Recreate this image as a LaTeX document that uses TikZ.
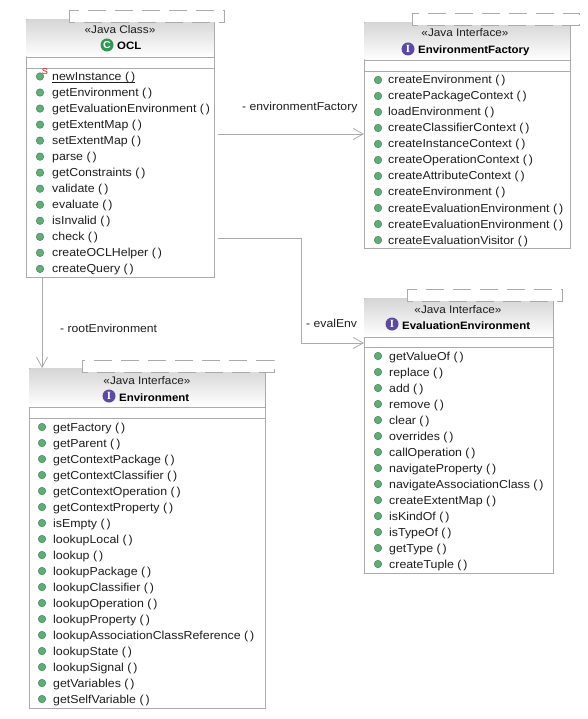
\documentclass[tikz,border=0pt]{standalone}
\usepackage{fontspec}
\setmainfont[FakeStretch=1.07]{Liberation Sans}
\newfontfamily\iconserif{Liberation Serif}
\usetikzlibrary{arrows.meta}
\definecolor{umlline}{HTML}{ABABAB}
\definecolor{umlhead}{HTML}{D6D6D6}
\definecolor{umltext}{HTML}{1E1E1E}
\definecolor{bulletfill}{HTML}{62AC75}
\definecolor{bulletedge}{HTML}{3F8A58}
\definecolor{classicon}{HTML}{2E9A50}
\definecolor{ifaceicon}{HTML}{5B4A9F}
\tikzset{
  classbox/.style={draw=umlline,line width=1.2pt,fill=white,anchor=north west,inner sep=0pt},
  headshade/.style={top color=umlhead,bottom color=white},
  sepline/.style={draw=umlline,line width=0.9pt},
  tabbox/.style={fill=white,draw=umlline,line width=0.8pt,dash pattern=on 18pt off 9pt},
  assoc/.style={draw=umlline,line width=0.8pt,-{Straight Barb[length=10pt,width=11pt]}},
  method/.style={anchor=base west,inner sep=0pt,text=umltext,font=\fontsize{11.55}{13}\selectfont},
  bullet/.style={circle,inner sep=0pt,minimum size=7.5pt,fill=bulletfill,draw=bulletedge,line width=0.5pt},
  stereo/.style={anchor=base,inner sep=0pt,text=umltext,font=\fontsize{11}{13}\selectfont},
  title/.style={anchor=base west,inner sep=0pt,font=\fontsize{10.7}{13}\selectfont\bfseries},
  icon/.style={circle,inner sep=0pt,minimum size=13pt,text=white,font=\fontsize{10}{10}\selectfont\bfseries},
  ifaceletter/.style={icon,fill=ifaceicon,font=\fontsize{11}{11}\selectfont\iconserif\bfseries},
  role/.style={anchor=base west,inner sep=0pt,text=umltext,font=\fontsize{11.4}{13}\selectfont}
}
\begin{document}
\begin{tikzpicture}[x=1pt,y=-1pt]
  \useasboundingbox (0,0) rectangle (588,719);

  % OCL class
  \node[classbox,minimum width=188pt,minimum height=258pt] (ocl) at (26,19) {};
  \fill[headshade] (26.6,19.6) rectangle (213.4,57);
  \draw[sepline] (26,57) -- (214,57);
  \draw[sepline] (26,68) -- (214,68);
  \draw[tabbox] (69,10) rectangle (224,22);
  \node[stereo] (oclStereo) at (120,34) {«Java Class»};
  \node[icon,fill=classicon] (oclIcon) at (107,45) {C};
  \node[title] (oclTitle) at (117,49.5) {OCL};
  \node[bullet] (oclBullet0) at (40,76.5) {};
  \node[inner sep=0pt,text=red,font=\fontsize{8.5}{9}\selectfont] (oclStatic) at (45,71.5) {S};
  \node[method] (oclMethod0) at (52,81) {newInstance (\,)};
  \draw[umltext,line width=0.7pt] ([yshift=-1.8pt]oclMethod0.base west) -- ([yshift=-1.8pt]oclMethod0.base east);
  \foreach \meth [count=\i] in {getEnvironment,getEvaluationEnvironment,getExtentMap,setExtentMap,parse,getConstraints,validate,evaluate,isInvalid,check,createOCLHelper,createQuery}{
    \node[bullet] (oclBullet\i) at (40,{76.5+\i*16.03}) {};
    \node[method] (oclMethod\i) at (52,{80.5+\i*16.03}) {\meth\ (\,)};
  }

  % EnvironmentFactory interface
  \node[classbox,minimum width=206pt,minimum height=226pt] (envFactory) at (364,22) {};
  \fill[headshade] (364.6,22.6) rectangle (569.4,60);
  \draw[sepline] (364,60) -- (570,60);
  \draw[sepline] (364,71) -- (570,71);
  \draw[tabbox] (412,13) rectangle (579,25);
  \node[stereo] (factoryStereo) at (465,36.7) {«Java Interface»};
  \node[ifaceletter] (factoryIcon) at (408,49) {I};
  \node[title] (factoryTitle) at (418,53.5) {EnvironmentFactory};
  \foreach \meth [count=\i from 0] in {createEnvironment,createPackageContext,loadEnvironment,createClassifierContext,createInstanceContext,createOperationContext,createAttributeContext,createEnvironment,createEvaluationEnvironment,createEvaluationEnvironment,createEvaluationVisitor}{
    \node[bullet] (factoryBullet\i) at (378,{80+\i*16}) {};
    \node[method] (factoryMethod\i) at (388,{84+\i*16}) {\meth\ (\,)};
  }

  % Environment interface
  \node[classbox,minimum width=236pt,minimum height=340pt] (environment) at (29,368) {};
  \fill[headshade] (29.6,368.6) rectangle (264.4,407);
  \draw[sepline] (29,407) -- (265,407);
  \draw[sepline] (29,418) -- (265,418);
  \draw[tabbox] (82,360) rectangle (274,372);
  \node[stereo] (environmentStereo) at (147,384.3) {«Java Interface»};
  \node[ifaceletter] (environmentIcon) at (109,396) {I};
  \node[title] (environmentTitle) at (119,401) {Environment};
  \foreach \meth [count=\i from 0] in {getFactory,getParent,getContextPackage,getContextClassifier,getContextOperation,getContextProperty,isEmpty,lookupLocal,lookup,lookupPackage,lookupClassifier,lookupOperation,lookupProperty,lookupAssociationClassReference,lookupState,lookupSignal,getVariables,getSelfVariable}{
    \node[bullet] (environmentBullet\i) at (42,{427+\i*16}) {};
    \node[method] (environmentMethod\i) at (53,{431+\i*16}) {\meth\ (\,)};
  }

  % EvaluationEnvironment interface
  \node[classbox,minimum width=189pt,minimum height=275pt] (evalEnv) at (364,298) {};
  \fill[headshade] (364.6,298.6) rectangle (552.4,337);
  \draw[sepline] (364,337) -- (553,337);
  \draw[sepline] (364,347) -- (553,347);
  \draw[tabbox] (407,289) rectangle (562,301);
  \node[stereo] (evalStereo) at (458,313.3) {«Java Interface»};
  \node[ifaceletter] (evalIcon) at (392,324) {I};
  \node[title] (evalTitle) at (402,329) {EvaluationEnvironment};
  \foreach \meth [count=\i from 0] in {getValueOf,replace,add,remove,clear,overrides,callOperation,navigateProperty,navigateAssociationClass,createExtentMap,isKindOf,isTypeOf,getType,createTuple}{
    \node[bullet] (evalBullet\i) at (378,{356+\i*16}) {};
    \node[method] (evalMethod\i) at (389,{360+\i*16}) {\meth\ (\,)};
  }

  % associations
  \coordinate (factoryOut) at (218,134);
  \coordinate (rootOut) at (42,277);
  \coordinate (evalOut) at (218,238);
  \coordinate (evalBend) at (301.5,238);
  \coordinate (evalIn) at (364,343);
  \draw[assoc] (factoryOut) -- (factoryOut -| envFactory.west);
  \draw[assoc] (rootOut) -- (rootOut |- environment.north);
  \draw[assoc] (evalOut) -- (evalBend) -- (evalBend |- evalIn) -- (evalIn);

  \node[role] (factoryRole) at (242,111) {- environmentFactory};
  \node[role] (rootRole) at (60,332.7) {- rootEnvironment};
  \node[role] (evalRole) at (306,327.3) {- evalEnv};
\end{tikzpicture}
\end{document}
